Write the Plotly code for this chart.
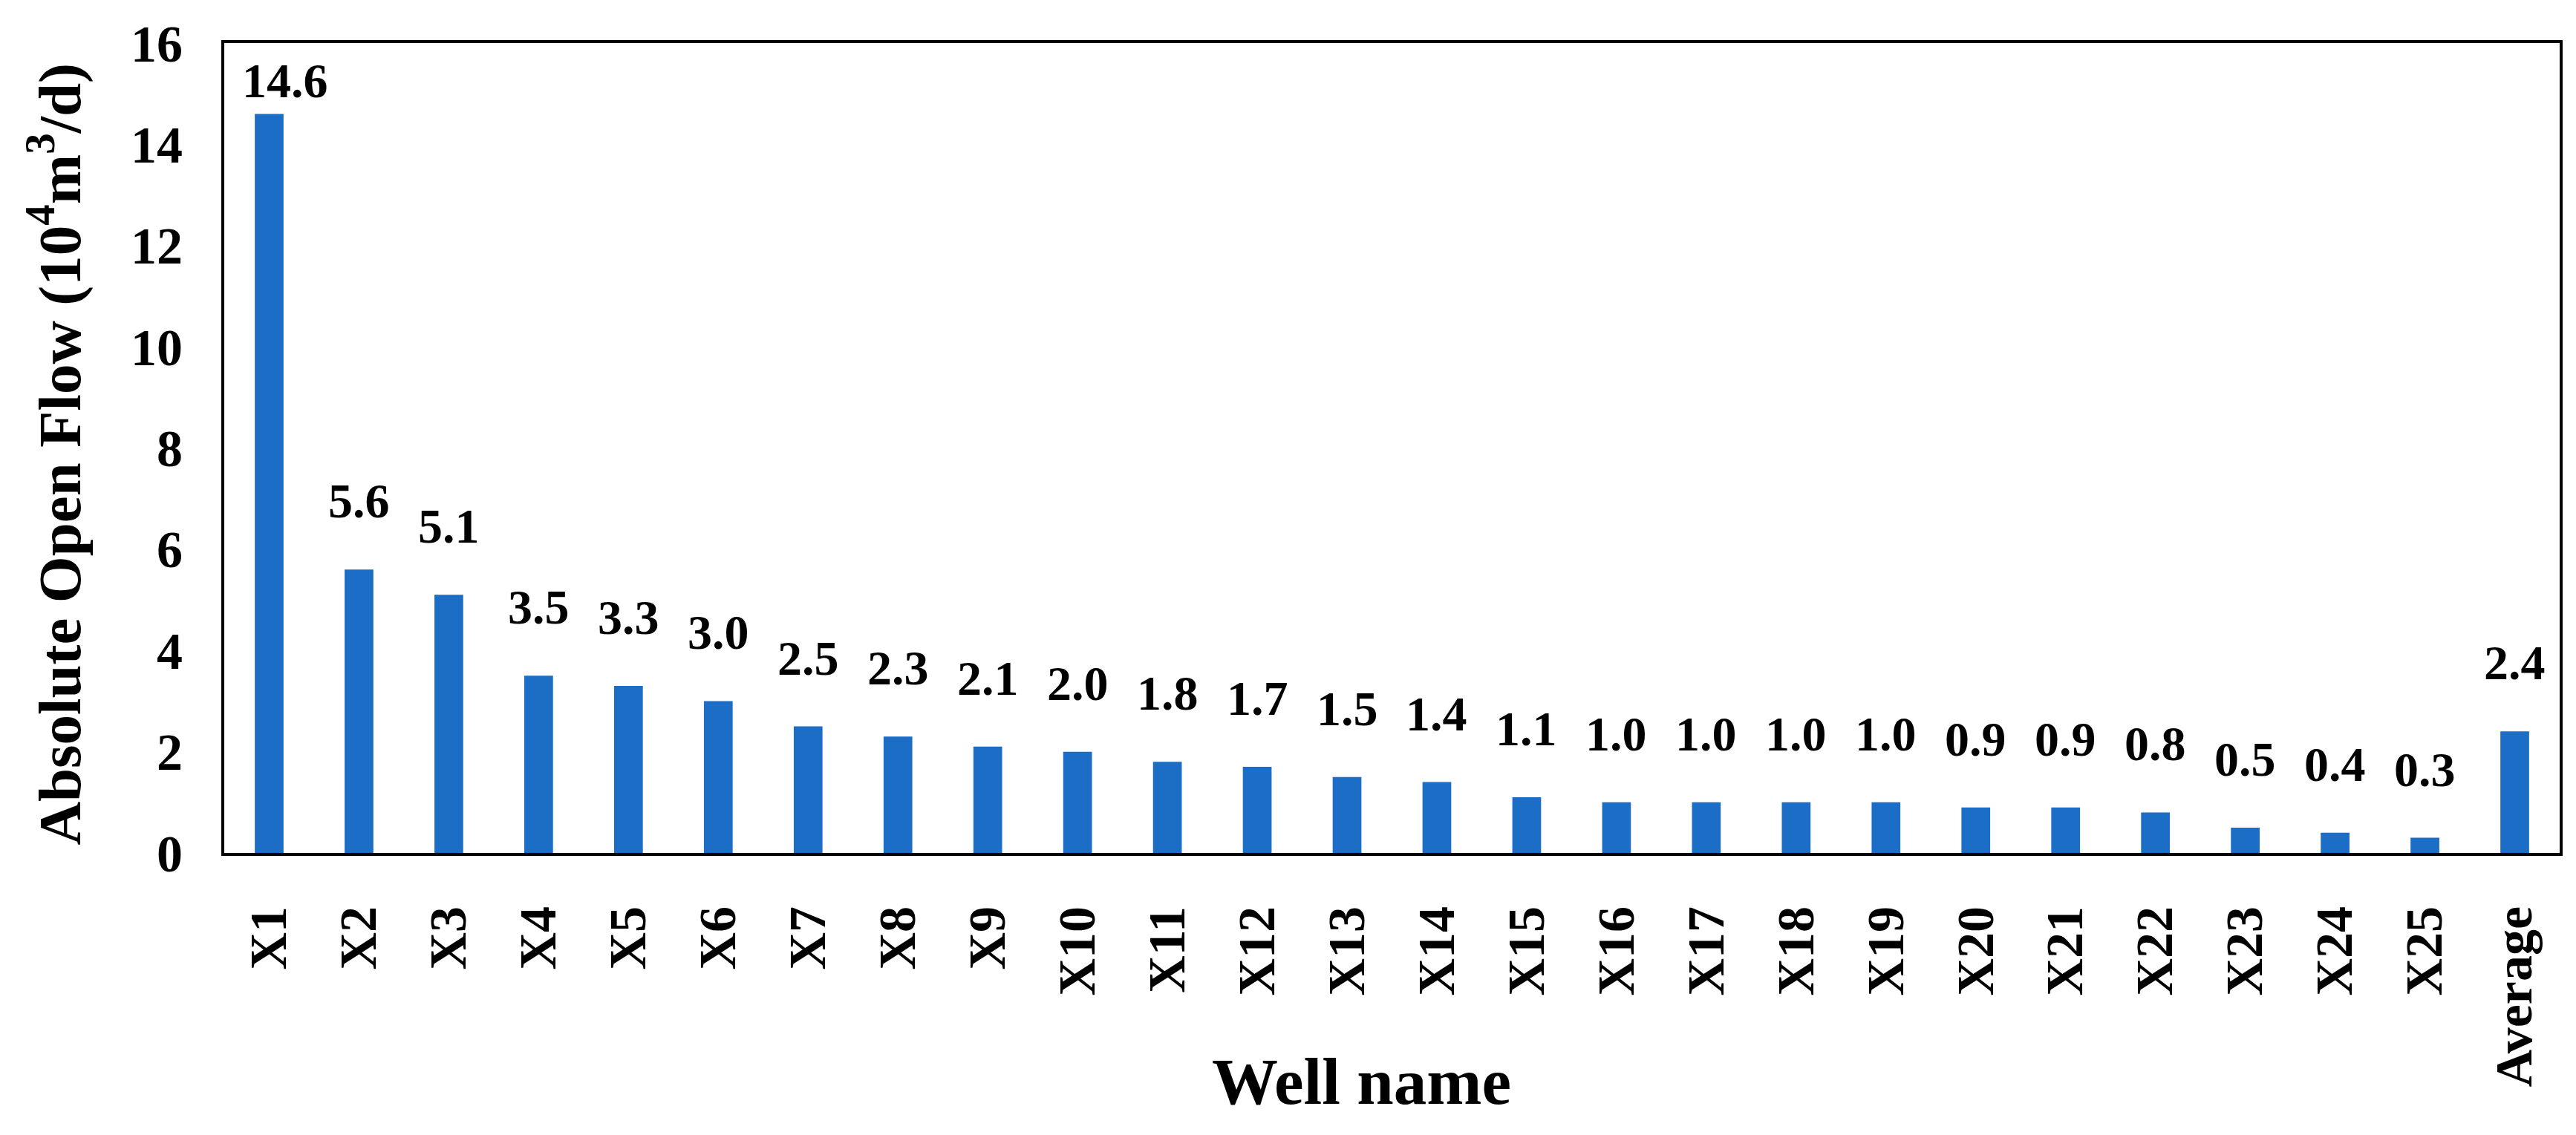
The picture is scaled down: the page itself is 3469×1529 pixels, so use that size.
import plotly.graph_objects as go

wells = ["X1", "X2", "X3", "X4", "X5", "X6", "X7", "X8", "X9", "X10", "X11", "X12", "X13",
         "X14", "X15", "X16", "X17", "X18", "X19", "X20", "X21", "X22", "X23", "X24", "X25", "Average"]
aof = [14.6, 5.6, 5.1, 3.5, 3.3, 3.0, 2.5, 2.3, 2.1, 2.0, 1.8, 1.7, 1.5,
       1.4, 1.1, 1.0, 1.0, 1.0, 1.0, 0.9, 0.9, 0.8, 0.5, 0.4, 0.3, 2.4]
y_ticks = [0, 2, 4, 6, 8, 10, 12, 14, 16]

FONT = "Liberation Serif"
BLUE = "#1B6DC6"

W, H = 3469, 1529
L, R, T, B = 294, 30, 48, 388
YMAX = 16

fig = go.Figure()
fig.add_trace(go.Bar(x=wells, y=aof, marker=dict(color=BLUE, line=dict(width=0)),
                     width=0.32, showlegend=False))

for w, v in zip(wells, aof):
    near_top = v > YMAX - 2  # label squeezed under the frame
    fig.add_annotation(x=w, y=v, text=f"<b>{v:.1f}</b>", showarrow=False,
                       xanchor="center", yanchor="bottom",
                       yshift=6 if near_top else 54, xshift=22 if near_top else 0,
                       font=dict(family=FONT, size=66, color="black"))

fig.add_annotation(xref="paper", yref="paper", x=0.487, y=0, yshift=-308,
                   xanchor="center", yanchor="middle", showarrow=False,
                   text="<b>Well name</b>", font=dict(family=FONT, size=89, color="black"))
fig.add_annotation(xref="paper", yref="paper", x=0, y=0.5, xshift=-228, yshift=-8,
                   xanchor="center", yanchor="middle", showarrow=False, textangle=-90,
                   text="<b>Absolute Open Flow (10<sup>4</sup>m<sup>3</sup>/d)</b>",
                   font=dict(family=FONT, size=81, color="black"))

fig.update_layout(
    width=W, height=H,
    margin=dict(l=L, r=R, t=T, b=B),
    paper_bgcolor="white", plot_bgcolor="white",
    font=dict(family=FONT, color="black"),
)
fig.update_xaxes(type="category", showline=True, linecolor="black", linewidth=4, mirror=True,
                 ticks="", tickangle=-90, ticklabelstandoff=40,
                 tickfont=dict(family=FONT, size=70, color="black", weight="bold"),
                 showgrid=False, zeroline=False)
fig.update_yaxes(range=[0, YMAX], tickvals=y_ticks, ticktext=[str(t) for t in y_ticks],
                 showline=True, linecolor="black", linewidth=4, mirror=True,
                 ticks="", ticklabelstandoff=38,
                 tickfont=dict(family=FONT, size=70, color="black", weight="bold"),
                 showgrid=False, zeroline=False)

fig.write_html("out.html")
